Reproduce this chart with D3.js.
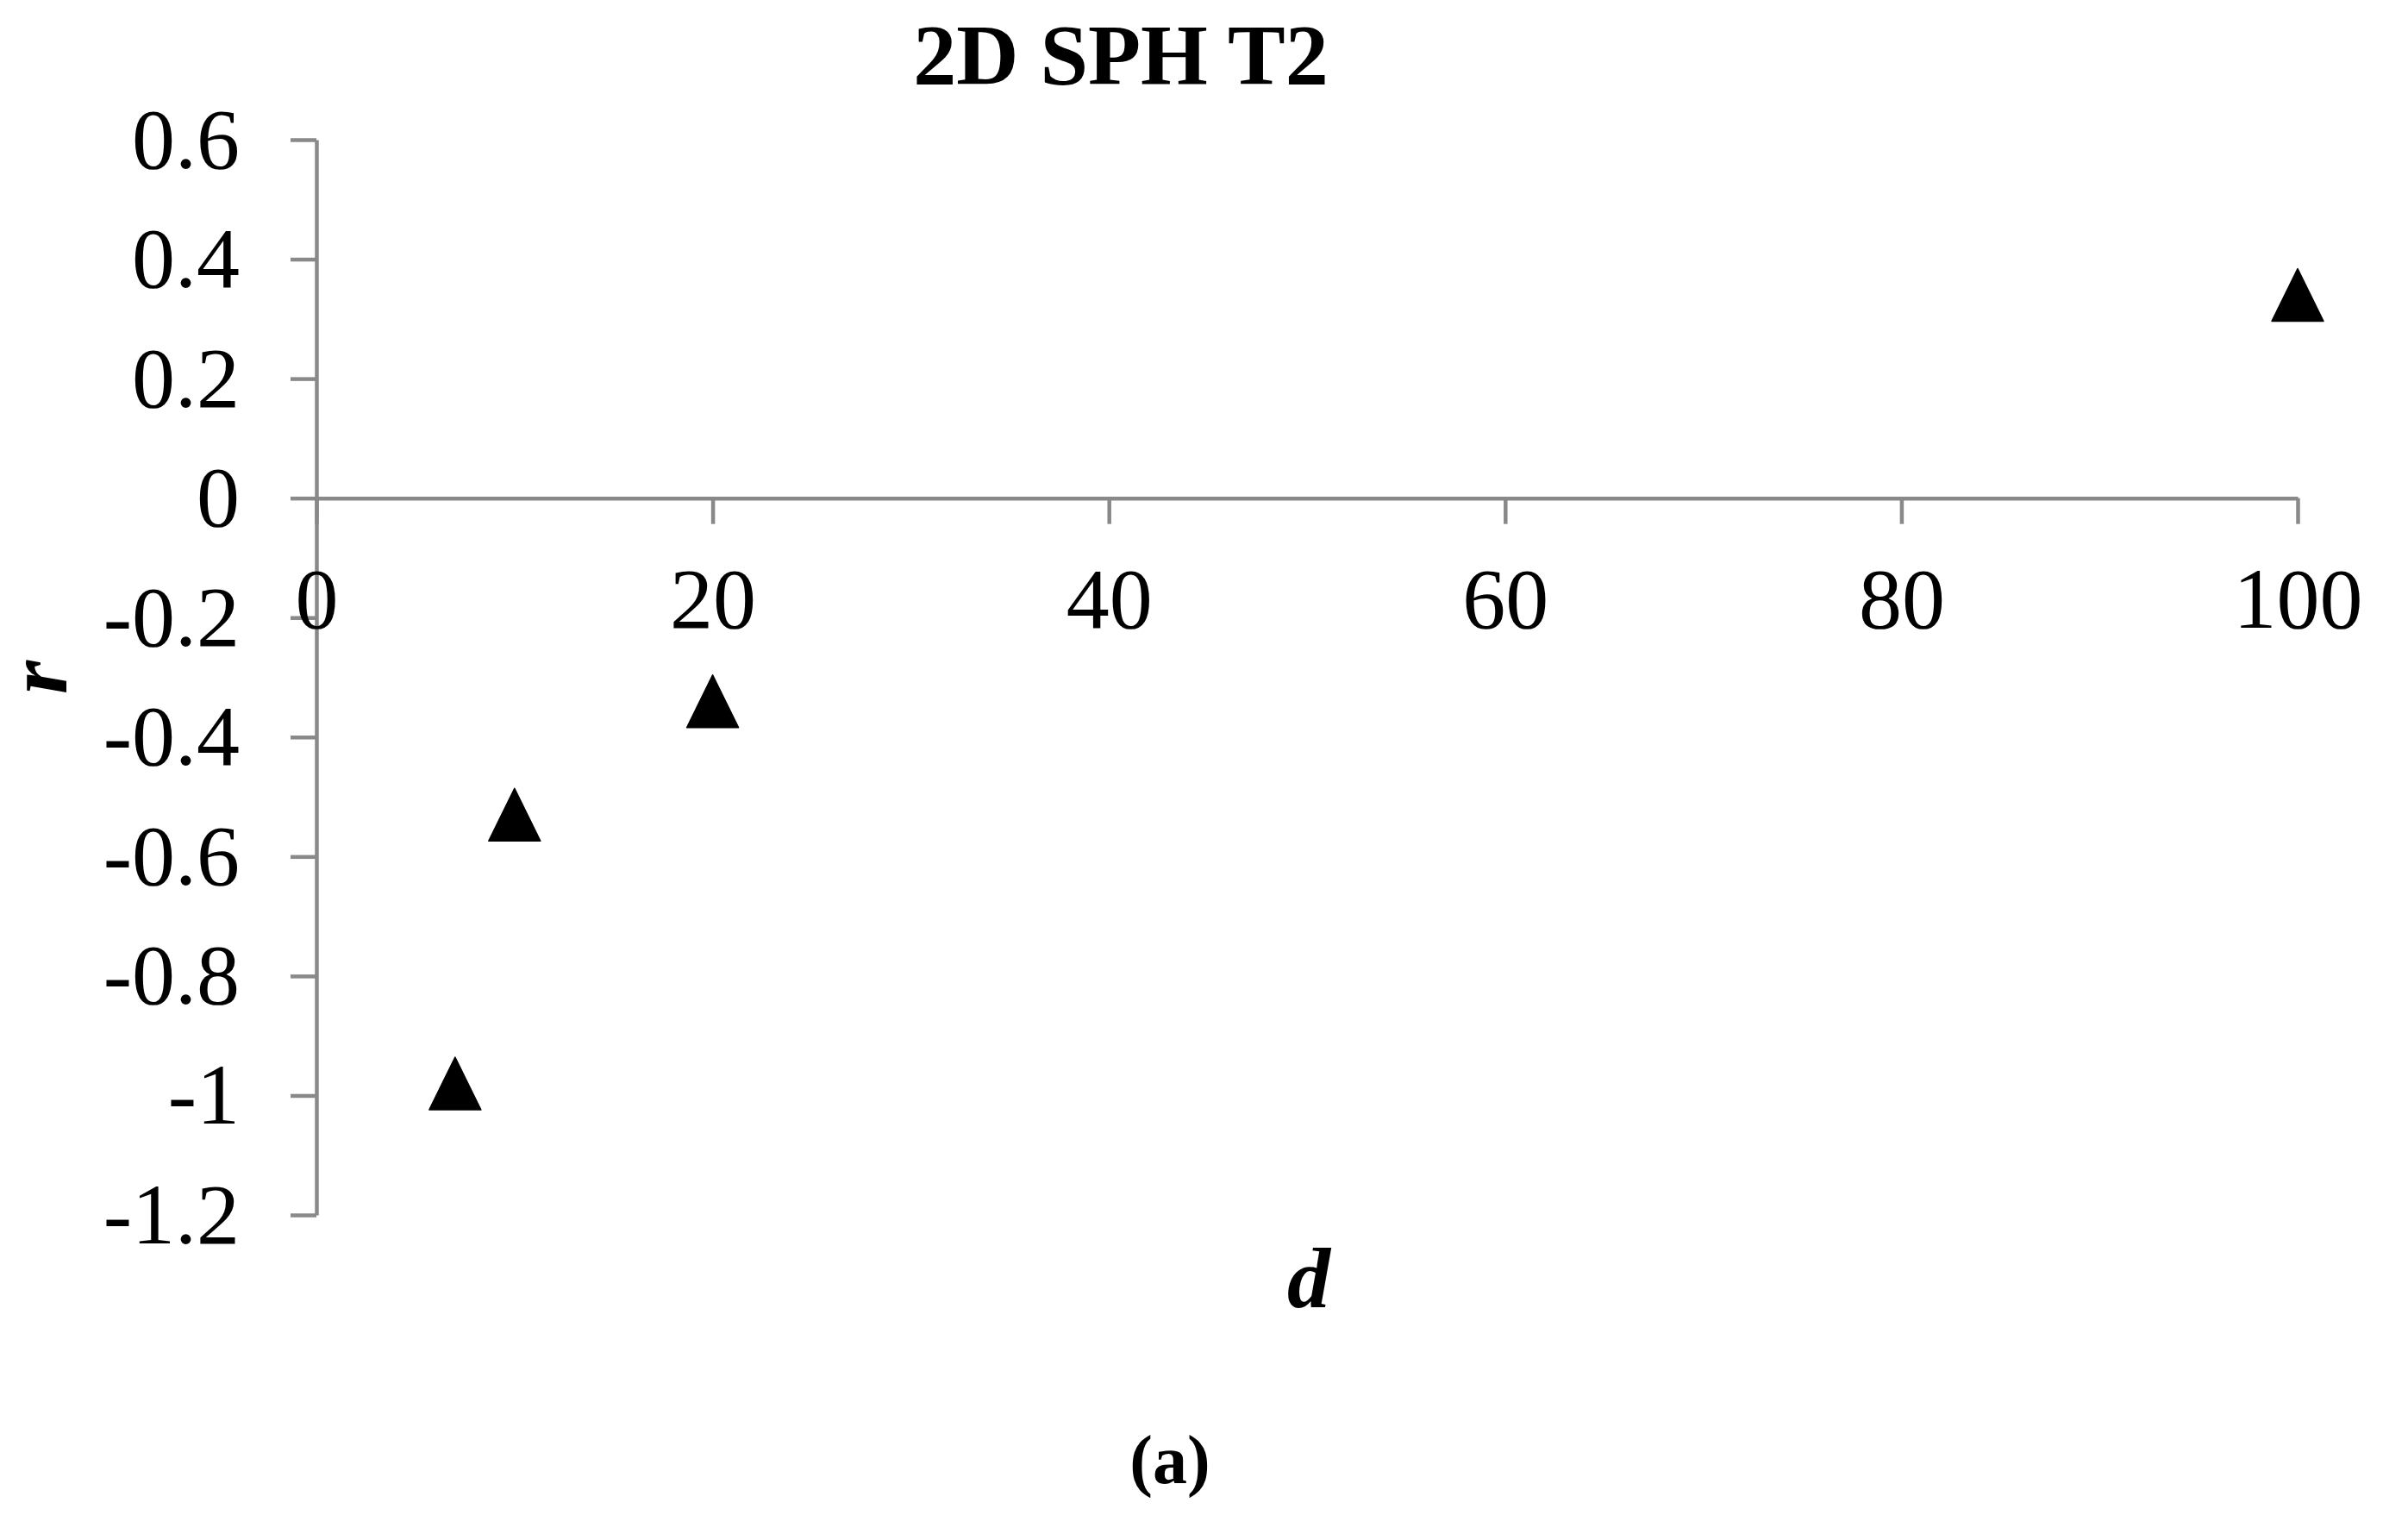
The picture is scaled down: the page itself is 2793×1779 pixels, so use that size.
<!DOCTYPE html>
<html>
<head>
<meta charset="utf-8">
<script src="https://d3js.org/d3.v7.min.js"></script>
<style>
  html, body { margin: 0; padding: 0; background: #fff; }
  svg { display: block; }
</style>
</head>
<body>
<svg id="chart" width="2793" height="1779"></svg>
<script>
// ---- data ----
const dValues = [7, 10, 20, 100];
const rValues = [-0.98, -0.53, -0.34, 0.34];
const xTicks = [0, 20, 40, 60, 80, 100];
const xTickLabels = ["0", "20", "40", "60", "80", "100"];
const yTicks = [0.6, 0.4, 0.2, 0, -0.2, -0.4, -0.6, -0.8, -1, -1.2];
const yTickLabels = ["0.6", "0.4", "0.2", "0", "-0.2", "-0.4", "-0.6", "-0.8", "-1", "-1.2"];
const chartTitle = "2D SPH T2";
const xTitle = "d";
const yTitle = "r";
const caption = "(a)";

// ---- layout ----
const W = 2793, H = 1779;
const plotL = 367, plotR = 2665, plotT = 162, plotB = 1409;
const axisColor = "#898989";
const font = "'Liberation Serif', 'Times New Roman', serif";

const svg = d3.select("#chart");
svg.append("rect").attr("width", W).attr("height", H).attr("fill", "#fff");

const x = d3.scaleLinear().domain([0, 100]).range([plotL, plotR]);
const y = d3.scaleLinear().domain([-1.2, 0.6]).range([plotB, plotT]);

// y axis
const yAxis = d3.axisLeft(y)
  .tickValues(yTicks)
  .tickFormat((d, i) => yTickLabels[i])
  .tickSize(30)
  .tickSizeOuter(0)
  .tickPadding(59);
const gy = svg.append("g").attr("transform", `translate(${plotL},0)`).call(yAxis);
gy.select(".domain").attr("stroke", axisColor).attr("stroke-width", 4.5);
gy.selectAll(".tick line").attr("stroke", axisColor).attr("stroke-width", 4.5);
gy.selectAll(".tick text")
  .attr("fill", "#000")
  .style("font-family", font)
  .style("font-size", "100px");

// x axis at r = 0
const xAxis = d3.axisBottom(x)
  .tickValues(xTicks)
  .tickFormat((d, i) => xTickLabels[i])
  .tickSize(30)
  .tickSizeOuter(0);
const gx = svg.append("g").attr("transform", `translate(0,${y(0)})`).call(xAxis);
gx.select(".domain").attr("stroke", axisColor).attr("stroke-width", 4.5);
gx.selectAll(".tick line").attr("stroke", axisColor).attr("stroke-width", 4.5);
gx.selectAll(".tick text")
  .attr("fill", "#000")
  .attr("y", 150)
  .attr("dy", 0)
  .style("font-family", font)
  .style("font-size", "100px");

// markers: triangles centred on their bounding box
const triW = 60, triH = 61;
const triPath = `M0,${-triH/2}L${triW/2},${triH/2}L${-triW/2},${triH/2}Z`;
svg.append("g").selectAll("path")
  .data(dValues.map((d, i) => ({d, r: rValues[i]})))
  .join("path")
  .attr("d", triPath)
  .attr("transform", p => `translate(${x(p.d)},${y(p.r)})`)
  .attr("fill", "#000")
  .attr("stroke", "#000")
  .attr("stroke-width", 1.5)
  .attr("stroke-linejoin", "round");

// title
svg.append("text")
  .attr("x", 1300).attr("y", 97)
  .attr("text-anchor", "middle")
  .style("font-family", font).style("font-size", "100px").style("font-weight", "bold")
  .text(chartTitle);

// axis titles
svg.append("text")
  .attr("x", (plotL + plotR) / 2 + 2).attr("y", 1516)
  .attr("text-anchor", "middle")
  .style("font-family", font).style("font-size", "100px")
  .style("font-weight", "bold").style("font-style", "italic")
  .text(xTitle);

svg.append("text")
  .attr("transform", `translate(77,${(plotT + plotB) / 2}) rotate(-90)`)
  .attr("text-anchor", "middle")
  .style("font-family", font).style("font-size", "100px")
  .style("font-weight", "bold").style("font-style", "italic")
  .text(yTitle);

// caption
svg.append("text")
  .attr("x", 1357).attr("y", 1720)
  .attr("text-anchor", "middle")
  .style("font-family", font).style("font-size", "80px").style("font-weight", "bold")
  .text(caption);
</script>
</body>
</html>
